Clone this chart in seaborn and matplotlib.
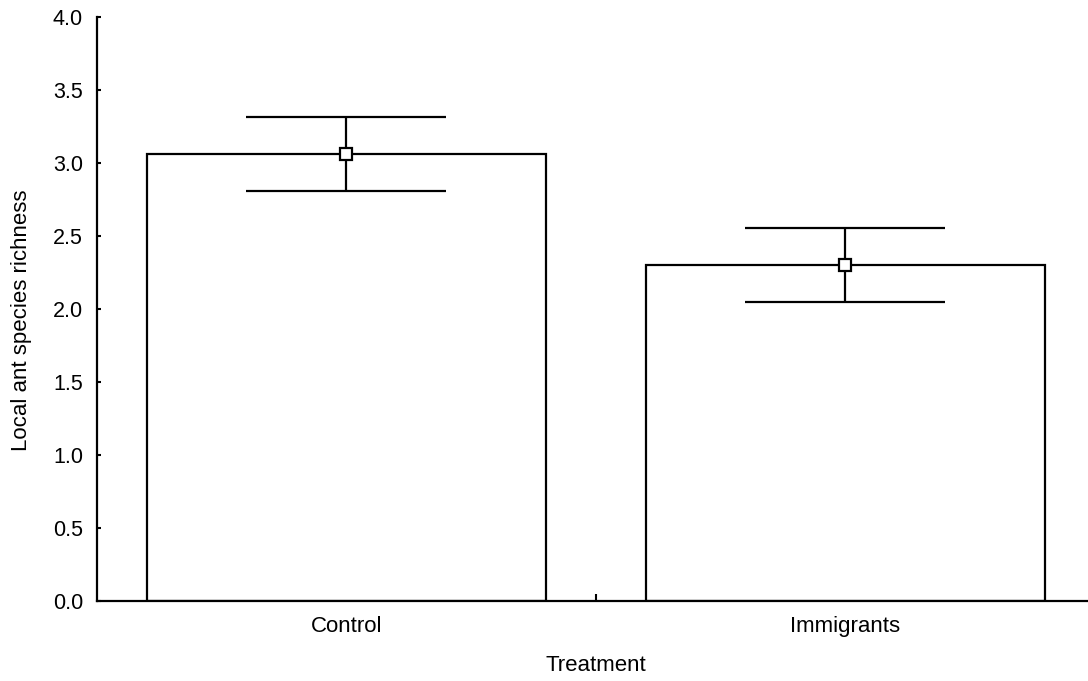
import matplotlib
matplotlib.use("Agg")
import matplotlib.pyplot as plt
import seaborn as sns
import pandas as pd
import numpy as np

categories = ["Control", "Immigrants"]
means = [3.06, 2.30]
errors = [0.252, 0.252]
yticks = [0.0, 0.5, 1.0, 1.5, 2.0, 2.5, 3.0, 3.5, 4.0]

sns.set_theme(style="white")
plt.rcParams['font.family'] = ['Liberation Sans', 'DejaVu Sans']
plt.rcParams['text.color'] = 'black'
plt.rcParams['axes.labelcolor'] = 'black'
plt.rcParams['xtick.color'] = 'black'
plt.rcParams['ytick.color'] = 'black'

df = pd.DataFrame({"Treatment": categories, "Richness": means})

fig = plt.figure(figsize=(10.88, 6.81), dpi=100)
ax = fig.add_axes([97/1088, 80/681, (1094.5-97)/1088, 584/681])

sns.barplot(data=df, x="Treatment", y="Richness", color="white", edgecolor="black",
            linewidth=1.6, width=0.8, errorbar=None, ax=ax, saturation=1)
for p in ax.patches:
    p.set_facecolor("white")

xpos = np.arange(len(categories))
ax.errorbar(xpos, means, yerr=errors, fmt="s", color="black", ecolor="black",
            elinewidth=1.6, capsize=72, capthick=1.6, markersize=8,
            markerfacecolor="white", markeredgecolor="black", markeredgewidth=1.6, zorder=5)

ax.set_xlim(-0.5, 1.5)
ax.set_ylim(0, 4.0)
ax.set_yticks(yticks)
ax.set_yticklabels([f"{v:.1f}" for v in yticks], fontsize=15.5)
ax.set_xticks(xpos)
ax.set_xticklabels(categories, fontsize=16)
ax.set_xticks([0.5], minor=True)

for s in ["top", "right"]:
    ax.spines[s].set_visible(False)
for s in ["left", "bottom"]:
    ax.spines[s].set_color("black")
    ax.spines[s].set_linewidth(1.6)

ax.tick_params(axis="y", direction="in", length=3, width=1.5, colors="black", pad=10, left=True)
ax.tick_params(axis="x", which="major", length=0, pad=11, colors="black")
ax.tick_params(axis="x", which="minor", direction="in", length=5, width=1.5, color="black", bottom=True)

ax.set_xlabel("Treatment", fontsize=16, labelpad=13, color="black")
ax.set_ylabel("Local ant species richness", fontsize=16, color="black")
ax.yaxis.set_label_coords(-0.065, 0.48)

fig.savefig("out.png", dpi=100)
